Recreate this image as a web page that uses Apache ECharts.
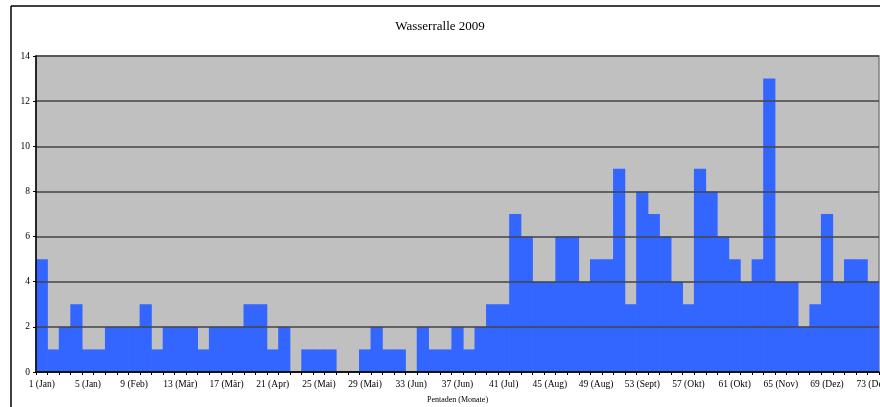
<!DOCTYPE html>
<html>
<head>
<meta charset="utf-8">
<script src="https://cdn.jsdelivr.net/npm/echarts@6/dist/echarts.min.js"></script>
<style>
html,body{margin:0;padding:0;background:#fff;}
#chart{width:880px;height:407px;}
</style>
</head>
<body>
<div id="chart"></div>
<script>
// Shown tick labels (every 4th pentad)
var tickLabels = ["1 (Jan)", "5 (Jan)", "9 (Feb)", "13 (Mär)", "17 (Mär)", "21 (Apr)", "25 (Mai)", "29 (Mai)", "33 (Jun)", "37 (Jun)", "41 (Jul)", "45 (Aug)", "49 (Aug)", "53 (Sept)", "57 (Okt)", "61 (Okt)", "65 (Nov)", "69 (Dez)", "73 (Dez)"];
// Counts per pentad 1..73
var counts = [5, 1, 2, 3, 1, 1, 2, 2, 2, 3,
              1, 2, 2, 2, 1, 2, 2, 2, 3, 3,
              1, 2, 0, 1, 1, 1, 0, 0, 1, 2,
              1, 1, 0, 2, 1, 1, 2, 1, 2, 3,
              3, 7, 6, 4, 4, 6, 6, 4, 5, 5,
              9, 3, 8, 7, 6, 4, 3, 9, 8, 6,
              5, 4, 5, 13, 4, 4, 2, 3, 7, 4,
              5, 5, 4];
var titleText = "Wasserralle 2009";
var xAxisName = "Pentaden (Monate)";

var categories = [];
for (var i = 0; i < counts.length; i++) {
  categories.push(i % 4 === 0 ? tickLabels[i / 4] : String(i + 1));
}

var serif = "'Liberation Serif', 'DejaVu Serif', serif";
var chart = echarts.init(document.getElementById('chart'), null, {renderer: 'canvas'});
chart.setOption({
  animation: false,
  backgroundColor: '#ffffff',
  title: {
    text: titleText,
    left: 'center',
    top: 15,
    textStyle: {fontFamily: serif, fontSize: 13, fontWeight: 'normal', color: '#000'}
  },
  grid: {
    left: 36, right: 1, top: 56, bottom: 35,
    containLabel: false,
    outerBoundsMode: 'none',
    show: true, backgroundColor: '#C0C0C0', borderColor: '#808080', borderWidth: 1.5
  },
  xAxis: {
    type: 'category',
    data: categories,
    boundaryGap: true,
    z: 10,
    name: xAxisName,
    nameLocation: 'middle',
    nameGap: 24,
    nameTextStyle: {fontFamily: serif, fontSize: 8, color: '#000'},
    axisLine: {lineStyle: {color: '#000', width: 1.5}},
    axisTick: {show: true, interval: 0, length: 3, lineStyle: {color: '#000'}},
    axisLabel: {interval: 3, fontFamily: serif, fontSize: 9.5, color: '#000', margin: 7},
    splitLine: {show: false}
  },
  yAxis: {
    type: 'value',
    min: 0, max: 14, interval: 2,
    z: 10,
    axisLine: {show: true, lineStyle: {color: '#000', width: 1.5}},
    axisTick: {show: true, length: 3, lineStyle: {color: '#000'}},
    axisLabel: {fontFamily: serif, fontSize: 9.5, color: '#000', margin: 6},
    splitLine: {show: true, lineStyle: {color: '#444', width: 1.5}}
  },
  series: [{
    type: 'bar',
    data: counts,
    barWidth: 12.2,
    itemStyle: {color: '#3366FF'}
  }],
  graphic: [
    {type: 'line', shape: {x1: 11, y1: 6, x2: 880, y2: 6}, style: {stroke: '#000', lineWidth: 1.5}, z: 100},
    {type: 'line', shape: {x1: 11, y1: 6, x2: 11, y2: 407}, style: {stroke: '#000', lineWidth: 1.5}, z: 100}
  ]
});
</script>
</body>
</html>
